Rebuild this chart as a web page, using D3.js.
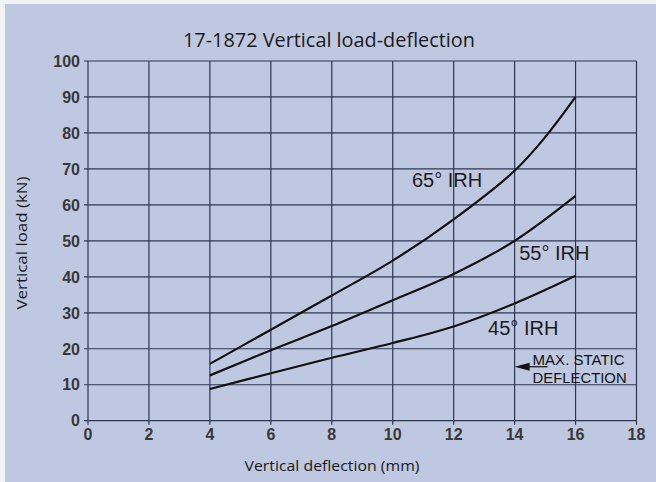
<!DOCTYPE html>
<html>
<head>
<meta charset="utf-8">
<script src="https://cdn.jsdelivr.net/npm/d3@7"></script>
<style>
  body { margin: 0; background: #f2f3f5; }
  svg { display: block; }
</style>
</head>
<body>
<div id="chart"></div>
<script>
// values
var xTicks = [0, 2, 4, 6, 8, 10, 12, 14, 16, 18];
var yTicks = [0, 10, 20, 30, 40, 50, 60, 70, 80, 90, 100];

var defl65 = [4, 6, 8, 10, 12, 14, 15, 16];
var load65 = [15.8, 25.3, 34.8, 44.5, 56, 69.5, 78.8, 90];
var defl55 = [4, 6, 8, 10, 12, 14, 16];
var load55 = [12.6, 19.6, 26.3, 33.5, 40.8, 50, 62.5];
var defl45 = [4, 6, 8, 10, 12, 14, 16];
var load45 = [8.8, 13.2, 17.5, 21.6, 26.2, 32.6, 40.3];

var seriesNames = ["65° IRH", "55° IRH", "45° IRH"];
var labelAt = [[10.63, 65], [14.15, 44.6], [13.13, 23.8]]; // text start / baseline, data units

var maxStatic = [14, 15];

var W = 656, H = 482;

var svg = d3.select("#chart").append("svg")
    .attr("width", W)
    .attr("height", H);

// blue panel
svg.append("rect")
    .attr("x", 5).attr("y", 4)
    .attr("width", W - 5).attr("height", H - 4)
    .attr("fill", "#bfc8e1");

var x = d3.scaleLinear().domain([0, 18]).range([88, 636.5]);
var y = d3.scaleLinear().domain([0, 100]).range([420.7, 61]);

var gridColor = "#2e3752";

// grid
var grid = svg.append("g");
grid.selectAll(".vgrid")
    .data(xTicks)
    .enter().append("line")
    .attr("x1", d => x(d)).attr("x2", d => x(d))
    .attr("y1", y(100)).attr("y2", y(0) + 4)
    .attr("stroke", gridColor)
    .attr("stroke-width", 1.2);
grid.selectAll(".hgrid")
    .data(yTicks)
    .enter().append("line")
    .attr("x1", x(0) - 4).attr("x2", x(18))
    .attr("y1", d => y(d)).attr("y2", d => y(d))
    .attr("stroke", gridColor)
    .attr("stroke-width", 1.2);

// tick labels
svg.append("g").selectAll("text")
    .data(yTicks)
    .enter().append("text")
    .attr("x", x(0) - 8)
    .attr("y", d => y(d))
    .attr("dy", "0.36em")
    .attr("text-anchor", "end")
    .attr("font-family", "Liberation Sans, Arial, sans-serif")
    .attr("font-size", 16)
    .attr("font-weight", "bold")
    .attr("fill", "#383838")
    .text(d => d);

svg.append("g").selectAll("text")
    .data(xTicks)
    .enter().append("text")
    .attr("x", d => x(d))
    .attr("y", y(0) + 19)
    .attr("text-anchor", "middle")
    .attr("font-family", "Liberation Sans, Arial, sans-serif")
    .attr("font-size", 16)
    .attr("font-weight", "bold")
    .attr("fill", "#383838")
    .text(d => d);

// curves
var line = d3.line()
    .x(d => x(d[0]))
    .y(d => y(d[1]))
    .curve(d3.curveCatmullRom.alpha(0.5));

var series = [
    d3.zip(defl65, load65),
    d3.zip(defl55, load55),
    d3.zip(defl45, load45)
];

svg.append("g").selectAll("path")
    .data(series)
    .enter().append("path")
    .attr("d", line)
    .attr("fill", "none")
    .attr("stroke", "#111")
    .attr("stroke-width", 2.2);

svg.append("g").selectAll("text")
    .data(seriesNames)
    .enter().append("text")
    .attr("x", (d, i) => x(labelAt[i][0]))
    .attr("y", (d, i) => y(labelAt[i][1]))
    .attr("font-family", "Liberation Sans, Arial, sans-serif")
    .attr("font-size", 20)
    .attr("fill", "#1a1a1a")
    .text(d => d);

// max static deflection marker
var ax = x(maxStatic[0]), ay = y(maxStatic[1]);
svg.append("path")
    .attr("d", "M" + ax + "," + ay + "L" + (ax + 15) + "," + (ay - 4) + "L" + (ax + 15) + "," + (ay + 4) + "Z")
    .attr("fill", "#111");
svg.append("line")
    .attr("x1", ax + 14).attr("x2", ax + 33)
    .attr("y1", ay).attr("y2", ay)
    .attr("stroke", "#111")
    .attr("stroke-width", 1.2);

var note = svg.append("g")
    .attr("font-family", "Liberation Sans, Arial, sans-serif")
    .attr("font-size", 15.5)
    .attr("fill", "#111");
note.append("text")
    .attr("x", ax + 18).attr("y", ay - 1.5)
    .attr("textLength", 92)
    .attr("lengthAdjust", "spacingAndGlyphs")
    .text("MAX. STATIC");
note.append("text")
    .attr("x", ax + 18).attr("y", ay + 16.5)
    .attr("textLength", 94)
    .attr("lengthAdjust", "spacingAndGlyphs")
    .text("DEFLECTION");

// titles
svg.append("text")
    .attr("x", 329)
    .attr("y", 47)
    .attr("text-anchor", "middle")
    .attr("font-family", "Open Sans, sans-serif")
    .attr("font-size", 20)
    .attr("textLength", 292)
    .attr("lengthAdjust", "spacingAndGlyphs")
    .attr("fill", "#1a1a1a")
    .text("17-1872 Vertical load-deflection");

svg.append("text")
    .attr("x", 332)
    .attr("y", 471)
    .attr("text-anchor", "middle")
    .attr("font-family", "Open Sans, sans-serif")
    .attr("font-size", 15)
    .attr("textLength", 175)
    .attr("lengthAdjust", "spacingAndGlyphs")
    .attr("fill", "#1a1a1a")
    .text("Vertical deflection (mm)");

svg.append("text")
    .attr("transform", "translate(27,243) rotate(-90)")
    .attr("text-anchor", "middle")
    .attr("font-family", "Open Sans, sans-serif")
    .attr("font-size", 15)
    .attr("textLength", 133)
    .attr("lengthAdjust", "spacingAndGlyphs")
    .attr("fill", "#1a1a1a")
    .text("Vertical load (kN)");
</script>
</body>
</html>
